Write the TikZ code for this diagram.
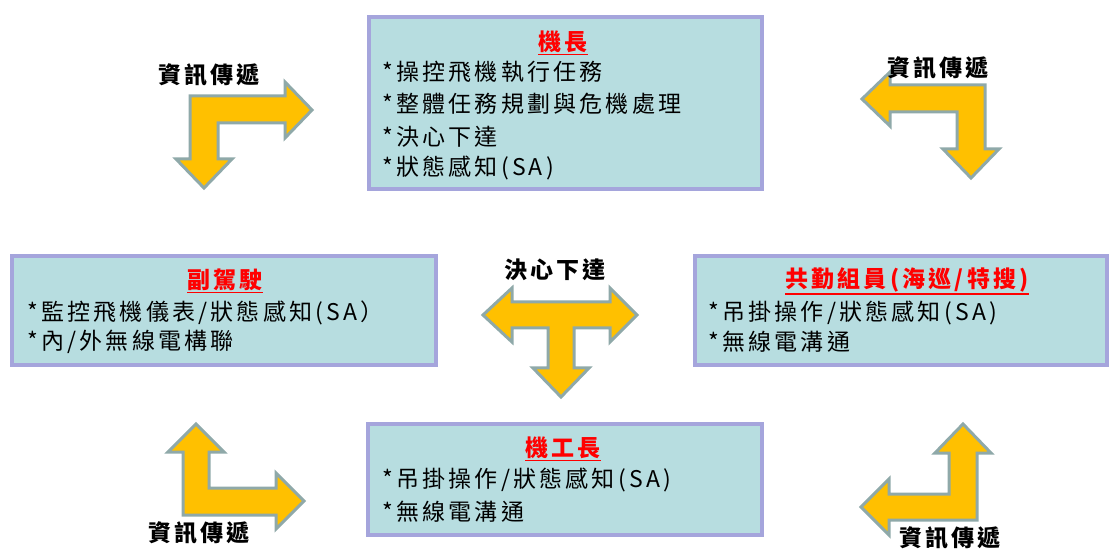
\documentclass[tikz,border=0pt]{standalone}
\usepackage{fontspec}
\newfontfamily\cjk{Noto Sans CJK TC}[LetterSpace=14]
\definecolor{boxfill}{HTML}{B7DDE0}
\definecolor{boxline}{HTML}{A5A5DC}
\definecolor{arrfill}{HTML}{FFC000}
\definecolor{arrline}{HTML}{8FA9A9}
\begin{document}
\begin{tikzpicture}[x=1pt,y=-1pt,
  box/.style={draw=boxline, line width=4pt, fill=boxfill, inner sep=0pt},
  ttl/.style={text=red, font=\cjk\bfseries\fontsize{23}{26}\selectfont, inner sep=0pt},
  ln/.style={anchor=west, font=\cjk\fontsize{23}{26}\selectfont, inner sep=0pt},
  lbl/.style={font=\cjk\bfseries\fontsize{23}{26}\selectfont, inner sep=0pt},
  arr/.style={fill=arrfill, draw=arrline, line width=3pt, line join=miter},
  uline/.style={draw=red, line width=1.5pt}]
\fill[white] (0,0) rectangle (1109,553);
\useasboundingbox (0,0) rectangle (1109,553);

% boxes
\node[box, minimum width=393pt, minimum height=172pt] (cap) at (565.5,103) {};
\node[box, minimum width=424pt, minimum height=109pt] (cop) at (224,310.5) {};
\node[box, minimum width=412pt, minimum height=109pt] (crew) at (901,310.5) {};
\node[box, minimum width=394pt, minimum height=111pt] (eng) at (565,479.5) {};

% captain
\node[ttl] (capT) at (563,42) {機長};
\draw[uline] ([yshift=-1.5pt]capT.south west) -- ([yshift=-1.5pt]capT.south east);
\node[ln] (cap1) at (382,72) {*操控飛機執行任務};
\node[ln] (cap2) at (382,104) {*整體任務規劃與危機處理};
\node[ln] (cap3) at (382,137) {*決心下達};
\node[ln] (cap4) at (382,168) {*狀態感知(SA)};

% copilot
\node[ttl] (copT) at (225,280) {副駕駛};
\draw[uline] ([yshift=-1.5pt]copT.south west) -- ([yshift=-1.5pt]copT.south east);
\node[ln] (cop1) at (27,313) {*監控飛機儀表/狀態感知(SA）};
\node[ln] (cop2) at (27,342) {*內/外無線電構聯};

% crew
\node[ttl] (crewT) at (907,280) {共勤組員(海巡/特搜)};
\draw[uline] ([yshift=-1.5pt]crewT.south west) -- ([yshift=-1.5pt]crewT.south east);
\node[ln] (crew1) at (708,313) {*吊掛操作/狀態感知(SA)};
\node[ln] (crew2) at (708,342) {*無線電溝通};

% engineer
\node[ttl] (engT) at (563,448) {機工長};
\draw[uline] ([yshift=-1.5pt]engT.south west) -- ([yshift=-1.5pt]engT.south east);
\node[ln] (eng1) at (382,480) {*吊掛操作/狀態感知(SA)};
\node[ln] (eng2) at (382,512) {*無線電溝通};

% block arrows
\draw[arr] (190,96) -- (285,96) -- (285,82) -- (312,110) -- (285,138) -- (285,123) -- (218,123) -- (218,159) -- (232,159) -- (204,188) -- (176,159) -- (190,159) -- cycle;
\draw[arr] (985,85) -- (890,85) -- (890,72) -- (862,99) -- (890,126) -- (890,112) -- (957,112) -- (957,149) -- (943,149) -- (971,178) -- (999,149) -- (985,149) -- cycle;
\draw[arr] (512,302) -- (512,288) -- (483,315) -- (512,342) -- (512,328) -- (548,328) -- (548,368) -- (533,368) -- (561,397) -- (589,368) -- (574,368) -- (574,328) -- (610,328) -- (610,342) -- (637,315) -- (610,288) -- (610,302) -- cycle;
\draw[arr] (183,515) -- (183,452) -- (168,452) -- (196,424) -- (224,452) -- (209,452) -- (209,488) -- (276,488) -- (276,473) -- (304,501) -- (276,529) -- (276,515) -- cycle;
\draw[arr] (977,520) -- (977,453) -- (991,453) -- (963,424) -- (935,453) -- (949,453) -- (949,494) -- (889,494) -- (889,479) -- (861,507) -- (889,535) -- (889,520) -- cycle;

% labels
\node[lbl] (l1) at (209,75) {資訊傳遞};
\node[lbl] (l2) at (938,68) {資訊傳遞};
\node[lbl] (l3) at (199,533) {資訊傳遞};
\node[lbl] (l4) at (950,538) {資訊傳遞};
\node[lbl] (l5) at (555,270) {決心下達};
\end{tikzpicture}
\end{document}
